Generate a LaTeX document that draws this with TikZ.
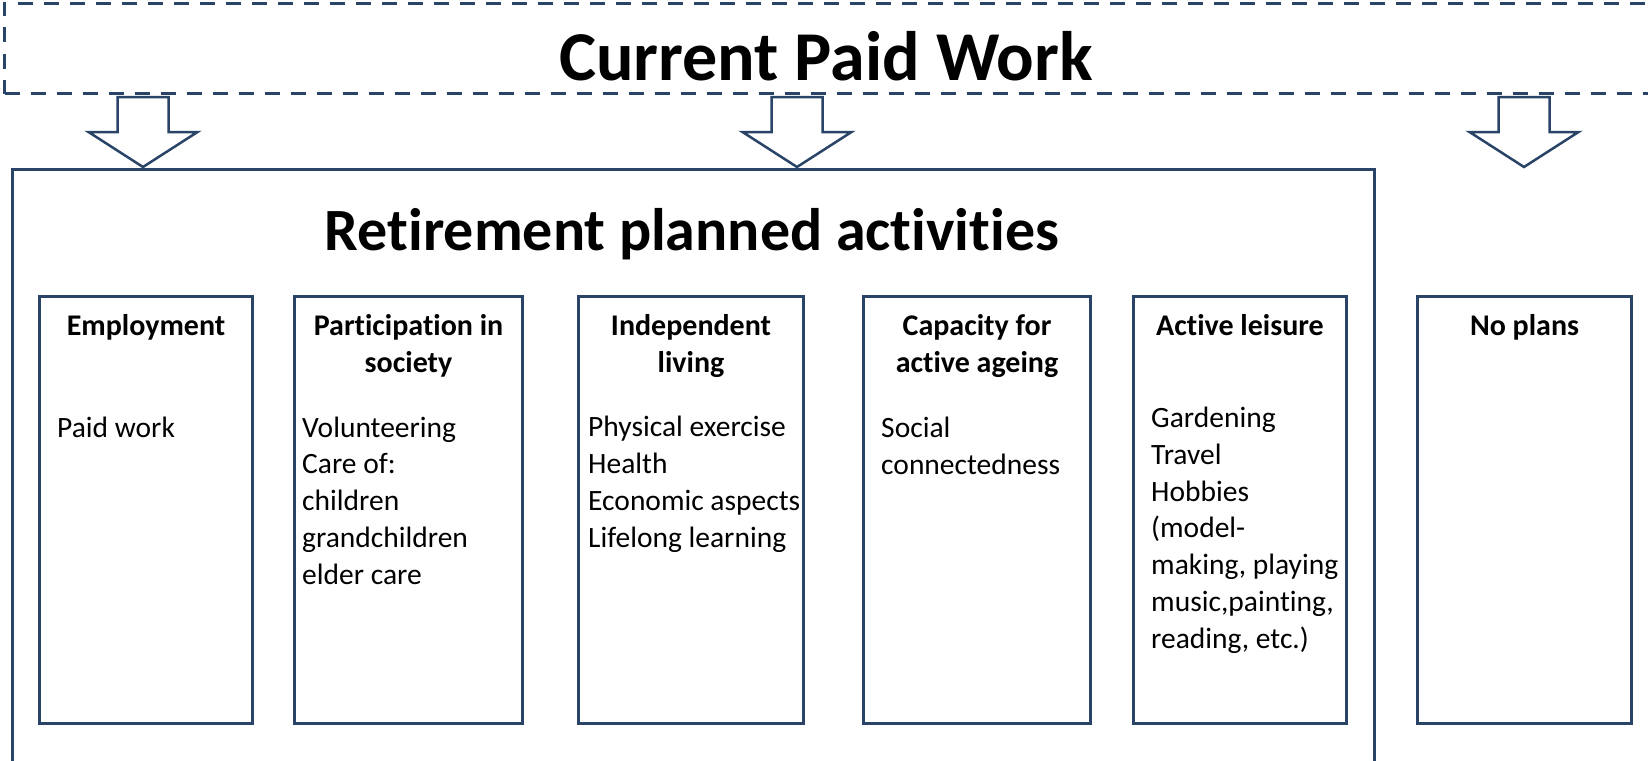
\documentclass[tikz,border=0pt]{standalone}
\usepackage{fontspec}
\setmainfont[Ligatures=NoCommon]{Carlito}
\definecolor{navy}{RGB}{42,68,104}
\tikzset{
  frame/.style={draw=navy,line width=3pt,anchor=north west,inner sep=0pt},
  hdr/.style={font=\bfseries\fontsize{30}{37}\selectfont,align=center,inner sep=0pt,anchor=base},
  item/.style={font=\fontsize{29.5}{36.7}\selectfont,align=left,inner sep=0pt,anchor=base west},
  blockarrow/.style={draw=navy,line width=2.5pt,line join=miter}
}
\begin{document}
\begin{tikzpicture}[x=1pt,y=-1pt]
\useasboundingbox (0,0) rectangle (1648,760);
% current work
\node[frame,dashed,dash pattern=on 15pt off 11pt,minimum width=1646pt,minimum height=90pt] (work) at (3,2) {};
\node[font=\bfseries\fontsize{70}{80}\selectfont,inner sep=0pt,anchor=base] (worktitle) at (826,81) {Current Paid Work};
% retirement plans
\node[frame,minimum width=1362pt,minimum height=620pt] (plan) at (11,168) {};
\node[font=\bfseries\fontsize{60}{72}\selectfont,inner sep=0pt,anchor=base] (plantitle) at (692,250) {Retirement planned activities};
\foreach \cx in {143,797,1524}
  \draw[blockarrow] ({\cx-25.5},97) -- ({\cx+25.5},97) -- ({\cx+25.5},132) -- ({\cx+54.5},132)
    -- (\cx,167) -- ({\cx-54.5},132) -- ({\cx-25.5},132) -- cycle;
% the six boxes
\node[frame,minimum width=213pt,minimum height=427pt] (emp) at (38,295) {};
\node[frame,minimum width=228pt,minimum height=427pt] (soc) at (293,295) {};
\node[frame,minimum width=225pt,minimum height=427pt] (ind) at (577,295) {};
\node[frame,minimum width=227pt,minimum height=427pt] (cap) at (862,295) {};
\node[frame,minimum width=213pt,minimum height=427pt] (leis) at (1132,295) {};
\node[frame,minimum width=214pt,minimum height=427pt] (none) at (1416,295) {};
% base = last line, so two-line headers sit one line lower
\node[hdr] (emph) at (emp.north |- 0,335) {Employment};
\node[hdr] (soch) at (soc.north |- 0,372) {Participation in\\society};
\node[hdr] (indh) at (ind.north |- 0,372) {Independent\\living};
\node[hdr] (caph) at (cap.north |- 0,372) {Capacity for\\active ageing};
\node[hdr] (leish) at (leis.north |- 0,335) {Active leisure};
\node[hdr] (noneh) at (none.north |- 0,335) {No plans};
\node[item] (empi) at (57,437) {Paid work};
\node[item] (soci) at (302,584) {Volunteering\\Care of:\\children\\grandchildren\\elder care};
\node[item] (indi) at (588,547) {Physical exercise\\Health\\Economic aspects\\Lifelong learning};
\node[item] (capi) at (881,474) {Social\\connectedness};
\node[item] (leisi) at (1151,648) {Gardening\\Travel\\Hobbies\\(model-\\making, playing\\music,painting,\\reading, etc.)};
\end{tikzpicture}
\end{document}
